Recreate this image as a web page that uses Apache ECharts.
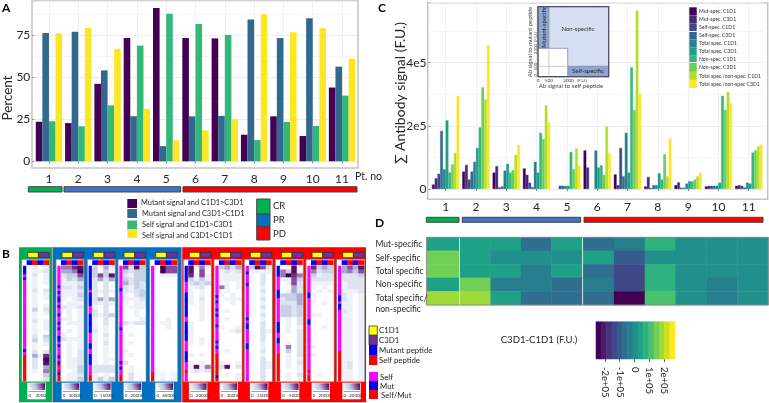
<!DOCTYPE html>
<html>
<head>
<meta charset="utf-8">
<style>
html, body { margin: 0; padding: 0; background: #fff; }
#main { width: 769px; height: 403px; }
</style>
</head>
<body>
<div id="main"></div>
<script src="https://cdn.jsdelivr.net/npm/echarts@6/dist/echarts.min.js"></script>
<script>
const FONT = 'Lato'

// panel A
const patients = ['1', '2', '3', '4', '5', '6', '7', '8', '9', '10', '11']
const mutC1 = [23.5, 22.7, 46, 73.2, 91, 73.2, 73, 15.8, 26.7, 15, 43.8]
const mutC3 = [76.2, 77, 54, 26.8, 9, 26.7, 27, 84.2, 73.2, 85, 56.2]
const selfC1 = [23.8, 20.8, 33.2, 68.7, 87.6, 81.6, 75, 12.6, 23.4, 21, 39]
const selfC3 = [76, 79.2, 66.8, 31.2, 12.4, 18.4, 25, 87.4, 76.6, 79, 61]
const aNames = ['Mutant signal and C1D1>C3D1', 'Mutant signal and C3D1>C1D1', 'Self signal and C1D1>C3D1', 'Self signal and C3D1>C1D1']
const aColors = ['#440154', '#31688E', '#35B779', '#FDE725']

// panel C, thousands of F.U. (null: no bar in the picture)
const cMutC1 = [14, 55, 52, 65, null, 122, 46, 8, 12, 8, 10]
const cMutC3 = [34, 76, 72, 45, null, 68, 12, 38, 21, 10, 12]
const cSelfC1 = [48, 30, 5, 20, 10, null, 130, 3, 4, 10, 10]
const cSelfC3 = [184, 55, 8, 6, 10, null, 40, 12, 4, 10, 5]
const cTotalC1 = [62, 86, 58, 86, 10, 122, 178, 12, 17, 10, 20]
const cTotalC3 = [217, 130, 80, 52, 10, 68, 52, 50, 25, 20, 17]
const cNonC1 = [52, 195, 52, 178, 117, 75, 385, 30, 24, 295, 115]
const cNonC3 = [78, 322, 60, 158, 63, 44, 250, 110, 30, 250, 122]
const cRatioC1 = [114, 283, 108, 265, 128, 198, 565, 40, 40, 307, 135]
const cRatioC3 = [295, 455, 139, 210, 73, 113, 302, 160, 52, 272, 141]
const cNames = ['Mut-spec. C1D1', 'Mut-spec. C3D1', 'Self-spec. C1D1', 'Self-spec. C3D1', 'Total spec. C1D1', 'Total spec. C3D1', 'Non-spec. C1D1', 'Non-spec. C3D1', 'Total spec./non-spec. C1D1', 'Total spec./non-spec C3D1']
const cColors = ['#440154', '#482878', '#3E4A89', '#31688E', '#26828E', '#1F9E89', '#35B779', '#6DCD59', '#B4DE2C', '#FDE725']

// panel B, one digit per cell (0 white .. 9 darkest)
const heat1 = ['0101', '0112', '0201', '0101', '0101', '0100', '0202', '0101', '0101', '0100', '0101', '0302', '0101', '0100', '0201', '0101', '0101', '0100', '0203', '0302', '0101', '0100', '0202', '0417', '0209', '0208', '0204', '0105', '0003', '0002']
const heat2 = ['5578', '4459', '2336', '1324', '1112', '2213', '1112', '1113', '1012', '0111', '2112', '0101', '0101', '1101', '0111', '0001', '0101', '1001', '2111', '0101', '0101', '0102', '0102', '0112', '0112', '0113', '0013', '0112', '0113']
const heat3 = ['3041', '3031', '3638', '2424', '2020', '2020', '2121', '2020', '2424', '2121', '1020', '2020', '2123', '1020', '1020', '1010', '2010', '1020', '1010', '1020', '1010', '1010', '1010', '1011', '1010', '2222', '2222', '1010', '1313']
const heat4 = ['6283', '3233', '2133', '3233', '4232', '2132', '2123', '1023', '1112', '1011', '0111', '0010', '0010', '0001', '2122', '0000', '0000', '0100', '0000', '0100', '0000', '1000', '0100', '0000', '2000', '0100', '0100', '0200', '0200']
const heat5 = ['0966', '0966', '0111', '0000', '0000', '0000', '0000', '0000', '0000', '0000', '0000', '0000', '0000', '0010', '0110', '0010', '0000', '0000', '0000', '0000', '0000', '0000', '0000', '0000', '0000', '0000', '0000', '0101', '0101']
const heat6 = ['8151', '8060', '7161', '3131', '2323', '1120', '1010', '1010', '1020', '1010', '0010', '0010', '0010', '0010', '1000', '1000', '1000', '1000', '1010', '1010', '0000', '0000', '1010', '0000', '1010', '1815', '1212', '0000', '0000']
const heat7 = ['3424', '1212', '1111', '1111', '0101', '5101', '0100', '1010', '0111', '0010', '0000', '0100', '0000', '0100', '0000', '1001', '0012', '0000', '0000', '0000', '0000', '0100', '0000', '0000', '1001', '2802', '0000', '0101', '0001']
const heat8 = ['3862', '1111', '0020', '0020', '0020', '0010', '0020', '0010', '0020', '0010', '0020', '0010', '0020', '0010', '0020', '0020', '0021', '0020', '0020', '0010', '0010', '0020', '0010', '0020', '0021', '0021', '0020', '0020', '0020']
const heat9 = ['0080', '5381', '5975', '1163', '0162', '0042', '0142', '3334', '2334', '2224', '3323', '3323', '3323', '0102', '0102', '0101', '0102', '0002', '0002', '0102', '0502', '0302', '0102', '0101', '0102', '0101', '0001', '0102', '0101']
const heat10 = ['7343', '5233', '3122', '2222', '1111', '1010', '0101', '1000', '0000', '1010', '0000', '0000', '1100', '0000', '0000', '0010', '0000', '0000', '0000', '0000', '1000', '0000', '1000', '0000', '0000', '0000', '0000', '0100', '0000']
const heat11 = ['4648', '4536', '2223', '2222', '1222', '1222', '1112', '2101', '2101', '1101', '1101', '2101', '1101', '1101', '1101', '1101', '1101', '1101', '1101', '1101', '1101', '1101', '1101', '1101', '1201', '1201', '1101', '1101', '1101']
const heats = [heat1, heat2, heat3, heat4, heat5, heat6, heat7, heat8, heat9, heat10, heat11]

// m self, b mut, r self/mut
const strips = [
    'bbbmbmmmmmmmmmmmmmmmmmmmmmmmmbmrrrrrrrrr',
    'mmmmmmmbmbmbbmbmmbmmbmbmmbbmbmmmbmbrmrbrr',
    'bbbbbbbbbmbbbbbmmmbbbbbbbmmmmbbmmbbbbmmmmrr',
    'mmmmmmmmbmmmmmmmmmmmmmbmmmmmmmmmmmbmbmmrr',
    'mmmmmmmmmmmmmmmmmmmmmmmmmmmmmmmmmmmmmmrrr',
    'bbbbbbmmmmbbbbbbbbbmmbbbbbbbmmmmbbbbmmmrmmm',
    'mmmmmmmmmmmbmbmmbmbmmmbmmmmmbmbmmrrrrrrrrbr',
    'mmbmmmbmmmmmmmmmmmbmbbmmmmmbbmmmmmmmmmmm',
    'bbbbmmmmmbbbmmmmmmmmmbbbbmmbbmmmmrrrrrrrrrr',
    'mmmmmmmmmmbbmmmmmmmmbbmmmmmmmmmmmmmmmmmrmrr',
    'mmmmmmmmmmbbmbbmmmmmmmmmmmmmmrrrrrrrrrr',
]
const stripColors = { m: '#ff00ff', b: '#0000ff', r: '#ff0000' }
const peptideCols = ['#0000ff', '#ff0000', '#0000ff', '#ff0000']
const barMax = ['2000', '30000', '15000', '20000', '40000', '20000', '30000', '15000', '5000', '20000', '20000']
const heatRamp = ['#ffffff', '#eef1f8', '#dde4f0', '#c5d0e5', '#aaa8cf', '#9a78b4', '#854a9c', '#6c2a80', '#560f66', '#430050']

// panel D, F.U. difference
const dRows = ['Mut-specific', 'Self-specific', 'Total specific', 'Non-specific', 'Total specific/']
const dMut = [42000, 42000, 42000, -65000, 42000, -65000, -29000, 78000, 6000, 6000, 6000]
const dSelf = [149000, 42000, 6000, 6000, 6000, 42000, -100000, 6000, 6000, 6000, 6000]
const dTotal = [149000, 42000, 42000, -29000, 42000, -65000, -136000, 78000, 6000, 6000, 6000]
const dNon = [42000, 149000, -29000, -29000, -65000, -29000, -136000, 78000, 6000, -29000, 6000]
const dRatio = [184000, 184000, 42000, -65000, -65000, -65000, -242000, 113000, 6000, -29000, 6000]
const viridis15 = ['#440154', '#481B6D', '#46337E', '#3F4889', '#365C8D', '#2E6E8E', '#277F8E', '#21908C', '#1FA187', '#2DB27D', '#4AC16D', '#73D056', '#A0DA39', '#D0E11C', '#FDE725']
const binEdges = [-260000, -224500, -189000, -153500, -118000, -82500, -47000, -11500, 24000, 59500, 95000, 130500, 166000, 201500, 237000, 272500]
const dTicks = [-200000, -100000, 0, 100000, 200000]
const dTickLabels = ['-2e+05', '-1e+05', '0', '1e+05', '2e+05']

// inset of panel C: x0, x1, y0, y1, fill
const insetCells = [
    [0, 4760, 0, 4930, '#d6dff1'],
    [0, 735, 2000, 4930, '#8ea5d3'],
    [2000, 4760, 0, 735, '#8ea5d3'],
    [0, 2000, 0, 2000, '#ffffff'],
]
const insetLines = [
    [735, 735, 0, 2000],
    [0, 2000, 735, 735],
]

const grids = []
const xAxes = []
const yAxes = []
const series = []
const heatSeries = []
const diffSeries = []
const shapes = []

const addGrid = (left, top, right, bottom, xAxis, yAxis) => {
    grids.push({ left, top, width: right - left, height: bottom - top })
    xAxes.push({ gridIndex: grids.length - 1, ...xAxis })
    yAxes.push({ gridIndex: grids.length - 1, ...yAxis })
    return grids.length - 1
}

const cats = (n) => Array.from({ length: n }, (_, i) => String(i))
const hiddenCat = (n, inverse) => ({ type: 'category', show: false, data: cats(n), inverse })

const addCells = (box, nx, ny, data) => {
    const g = addGrid(box[0], box[1], box[2], box[3], hiddenCat(nx, false), hiddenCat(ny, true))
    series.push({
        type: 'heatmap',
        xAxisIndex: g,
        yAxisIndex: g,
        data,
        silent: true,
        animation: false,
        progressive: 0,
        itemStyle: { borderWidth: 0 },
    })
    return series.length - 1
}

const text = (x, y, str, size, opts = {}) => {
    shapes.push({
        type: 'text',
        x,
        y,
        z: 50,
        rotation: opts.rotation || 0,
        silent: true,
        style: {
            text: str,
            fontSize: size,
            fontWeight: opts.weight || 'normal',
            fontFamily: FONT,
            fill: opts.fill || '#262626',
            align: opts.align || 'left',
            verticalAlign: 'middle',
        },
    })
}

const rect = (x0, y0, x1, y1, fill, stroke, lineWidth, z = 0) => {
    shapes.push({
        type: 'rect',
        z,
        silent: true,
        shape: { x: x0, y: y0, width: x1 - x0, height: y1 - y0 },
        style: { fill: fill || 'none', stroke: stroke || 'none', lineWidth: lineWidth || 0 },
    })
}

const barAxisX = (offset, size, margin) => ({
    type: 'category',
    data: patients,
    offset,
    axisLine: { show: false },
    axisTick: { show: true, alignWithLabel: true, length: 2, lineStyle: { color: '#888' } },
    axisLabel: { fontFamily: FONT, fontSize: size, color: '#262626', margin },
    splitLine: { show: true, alignWithLabel: true, lineStyle: { color: '#f0f0f0', width: 1 } },
})

const barAxisY = (max, interval, formatter) => ({
    type: 'value',
    min: 0,
    max,
    interval,
    axisLine: { show: false },
    axisTick: { show: true, length: 2, lineStyle: { color: '#888' } },
    axisLabel: { fontFamily: FONT, fontSize: 12, color: '#262626', margin: 4, formatter, showMaxLabel: false },
    splitLine: { show: true, lineStyle: { color: '#ededed', width: 1 } },
    minorTick: { show: false, splitNumber: 2 },
    minorSplitLine: { show: true, lineStyle: { color: '#f5f5f5', width: 1 } },
})

// panel A
const gridA = addGrid(34.3, 1, 356.7, 161.3, barAxisX(6.7, 12, 5), barAxisY(95.2, 25))
;[mutC1, mutC3, selfC1, selfC3].forEach((data, i) => {
    series.push({
        type: 'bar',
        name: aNames[i],
        xAxisIndex: gridA,
        yAxisIndex: gridA,
        data,
        barGap: 0,
        barCategoryGap: '10%',
        animation: false,
        silent: true,
        itemStyle: { color: aColors[i] },
    })
})
rect(32, 1, 358, 168, null, '#c4c4c4', 1.5)
text(8, 98, 'Percent', 13.5, { rotation: Math.PI / 2, align: 'center' })
text(355, 177, 'Pt. no', 10.5)
rect(28.3, 186.7, 62, 192, '#00b050', '#444', 1)
rect(64, 186.7, 180.7, 192, '#4472c4', '#444', 1)
rect(183, 186.7, 357, 192, '#ff0000', '#444', 1)

aNames.forEach((name, i) => {
    const top = [199, 209, 220.5, 229][i]
    rect(127.3, top, 137, top + 9, aColors[i])
    text(i === 0 ? 141 : 142, [203, 214, 225, 236][i], name, 7.4)
})
rect(256.7, 199, 270, 214, '#00b050', '#444', 1)
rect(256.7, 214, 270, 226.5, '#0070c0', '#444', 1)
rect(256.7, 226.5, 270, 240, '#ff0000', '#444', 1)
text(273, 206, 'CR', 9.5)
text(273, 220, 'PR', 9.5)
text(273, 233.5, 'PD', 9.5)

// panel C
const gridC = addGrid(430.5, 2.7, 763.9, 189, barAxisX(10.3, 12, 2), barAxisY(590, 200, (v) => (v === 0 ? '0' : `${v / 100}e5`)))
;[cMutC1, cMutC3, cSelfC1, cSelfC3, cTotalC1, cTotalC3, cNonC1, cNonC3, cRatioC1, cRatioC3].forEach((data, i) => {
    series.push({
        type: 'bar',
        name: cNames[i],
        xAxisIndex: gridC,
        yAxisIndex: gridC,
        data,
        barGap: 0,
        barCategoryGap: '10%',
        animation: false,
        silent: true,
        // thin border closes the seams between the 2.7 px wide bars
        itemStyle: { color: cColors[i], borderColor: cColors[i], borderWidth: 0.4 },
    })
})
rect(427.7, 2.7, 767.7, 199.3, null, '#c4c4c4', 1.5)
text(400, 93, '∑ Antibody signal (F.U.)', 14, { rotation: Math.PI / 2, align: 'center' })
rect(426.3, 217.3, 459, 222.3, '#00b050', '#444', 1)
rect(462.3, 217.3, 580.7, 222.3, '#4472c4', '#444', 1)
rect(584, 217.3, 763, 222.3, '#ff0000', '#444', 1)

cNames.forEach((name, i) => {
    rect(689.3, 7.3 + i * 8.07, 696.7, 15.37 + i * 8.07, cColors[i])
    text(699, 11.3 + i * 8.07, name, 5.1, { fill: '#333' })
})

// inset schematic
const gridInset = addGrid(538, 6.7, 608.7, 76.7,
    { type: 'value', show: false, min: 0, max: 4760 },
    { type: 'value', show: false, min: 0, max: 4930 })
series.push({
    type: 'custom',
    xAxisIndex: gridInset,
    yAxisIndex: gridInset,
    z: 5,
    silent: true,
    animation: false,
    data: insetCells,
    renderItem: (params, api) => {
        const a = api.coord([api.value(0), api.value(3)])
        const b = api.coord([api.value(1), api.value(2)])
        return {
            type: 'rect',
            shape: { x: a[0], y: a[1], width: b[0] - a[0], height: b[1] - a[1] },
            style: { fill: insetCells[params.dataIndex][4], stroke: '#7f8aa3', lineWidth: 0.8 },
        }
    },
})
series.push({
    type: 'custom',
    xAxisIndex: gridInset,
    yAxisIndex: gridInset,
    z: 6,
    silent: true,
    animation: false,
    data: insetLines,
    renderItem: (params, api) => {
        const a = api.coord([api.value(0), api.value(2)])
        const b = api.coord([api.value(1), api.value(3)])
        return {
            type: 'line',
            shape: { x1: a[0], y1: a[1], x2: b[0], y2: b[1] },
            style: { stroke: '#bdbdbd', lineWidth: 0.8 },
        }
    },
})
rect(538, 6.7, 608.7, 76.7, null, '#4a5068', 1.2, 40)
text(578, 29, 'Non-specific', 6, { align: 'center', fill: '#333' })
text(543.7, 27, 'Mutant-specific', 6, { align: 'center', rotation: Math.PI / 2, fill: '#222' })
text(588, 71, 'Self-specific', 6, { align: 'center', fill: '#222' })
text(530, 42, 'Ab signal to mutant peptide', 5.8, { align: 'center', rotation: Math.PI / 2, fill: '#444' })
text(535.5, 37, '(F.U.)', 4.5, { align: 'center', rotation: Math.PI / 2, fill: '#444' })
text(535.5, 49, '2000', 4.5, { align: 'center', rotation: Math.PI / 2, fill: '#444' })
text(535.5, 66.5, '500', 4.5, { align: 'center', rotation: Math.PI / 2, fill: '#444' })
text(535.5, 75.5, '0', 4.5, { align: 'center', rotation: Math.PI / 2, fill: '#444' })
text(538, 80.5, '0', 4.5, { align: 'center', fill: '#444' })
text(549, 80.5, '500', 4.5, { align: 'center', fill: '#444' })
text(568.5, 80.5, '2000', 4.5, { align: 'center', fill: '#444' })
text(582, 80.5, '(F.U.)', 4.5, { align: 'center', fill: '#444' })
text(571, 86, 'Ab signal to self peptide', 6.1, { align: 'center', fill: '#444' })

// panel B
const panelX = [21.7, 56, 87.3, 118, 149.7, 183.3, 214, 244.3, 275.3, 306, 336.7]
rect(19, 247.3, 52.3, 402.3, '#00b050', null, 0)
rect(52.3, 247.3, 53, 402.3, '#999999')
rect(53, 247.3, 181, 402.3, '#0070c0')
rect(181, 247.3, 182.3, 402.3, '#999999')
rect(182.3, 247.3, 366, 402.3, '#ff0000')

heats.forEach((rows, p) => {
    const x = panelX[p]
    rect(x + 6, 252.3, x + 16.7, 257.7, '#ffff00', '#333', 0.8)
    rect(x + 16.7, 252.3, x + 27.6, 257.7, '#7030a0', '#333', 0.8)
    rect(x, 259.3, x + 28, 381.7, '#ffffff', '#7f7f7f', 0.8)

    const cells = []
    rows.forEach((row, r) => {
        row.split('').forEach((d, c) => cells.push([c, r, Number(d)]))
    })
    heatSeries.push(addCells([x + 5.2, 265.7, x + 27.2, 381], 4, rows.length, cells))
    addCells([x + 5.2, 260.5, x + 27.2, 264.7], 4, 1, peptideCols.map((color, c) => ({ value: [c, 0, c], itemStyle: { color } })))

    const strip = strips[p].split('')
    addCells([x + 1.6, 266, x + 4.3, 381], 1, strip.length, strip.map((k, r) => ({ value: [0, r, 0], itemStyle: { color: stripColors[k] } })))

    rect(x + 5.6, 382.7, x + 24, 399.3, '#ffffff')
    shapes.push({
        type: 'rect',
        silent: true,
        z: 1,
        shape: { x: x + 6.6, y: 383.3, width: 16.7, height: 6.7 },
        style: {
            fill: new echarts.graphic.LinearGradient(0, 1, 1, 0, [
                { offset: 0, color: '#ffffff' },
                { offset: 0.45, color: '#b6c5df' },
                { offset: 0.75, color: '#854a9c' },
                { offset: 1, color: '#430050' },
            ]),
        },
    })
    rect(x + 7, 391, x + 23, 391.6, '#666666', null, 0, 1)
    text(x + 8, 396, '0', 4.5, { align: 'center', fill: '#333' })
    text(x + 19, 396, barMax[p], 4.5, { align: 'center', fill: '#333' })
})

rect(369, 326, 377.3, 335.3, '#ffff00', '#333', 0.8)
rect(369, 335.3, 377.3, 345, '#7030a0', '#333', 0.8)
rect(369, 345, 377.3, 355, '#0000ff')
rect(369, 355, 377.3, 365, '#ff0000')
text(379, 330.5, 'C1D1', 7.8)
text(379, 340.5, 'C3D1', 7.8)
text(379, 350.5, 'Mutant peptide', 7.8)
text(379, 360.5, 'Self peptide', 7.8)
rect(369, 372, 378, 381, '#ff00ff')
rect(369, 381, 378, 390, '#0000ff')
rect(369, 390, 378, 399, '#ff0000')
text(380, 377, 'Self', 7.8)
text(380, 386.5, 'Mut', 7.8)
text(381, 395.5, 'Self/Mut', 7.8)

// panel D
const dAll = [dMut, dSelf, dTotal, dNon, dRatio]
const dCols = (from, to) => {
    const out = []
    dAll.forEach((row, r) => {
        for (let c = from; c < to; c++) out.push([c - from, r, row[c]])
    })
    return out
}
diffSeries.push(addCells([426.7, 237.3, 459, 305], 1, 5, dCols(0, 1)))
diffSeries.push(addCells([460.2, 237.3, 582, 305], 4, 5, dCols(1, 5)))
diffSeries.push(addCells([583.3, 237.3, 768.3, 305], 6, 5, dCols(5, 11)))
rect(426.7, 237.3, 768.3, 305, null, '#8a8a8a', 1, 40)
dRows.forEach((name, i) => text(375.5, [244, 258, 271, 284.5, 298][i], name, 8.5))
text(375.5, 309.5, 'non-specific', 8.5)

addCells([596, 321.7, 675, 359], 15, 1, viridis15.map((color, c) => ({ value: [c, 0, c], itemStyle: { color } })))
addGrid(596, 321.7, 675, 359,
    {
        type: 'value',
        min: binEdges[0],
        max: binEdges[binEdges.length - 1],
        axisLine: { show: false },
        splitLine: { show: false },
        axisTick: { show: true, customValues: dTicks, length: 3, lineStyle: { color: '#666' } },
        axisLabel: {
            fontFamily: FONT,
            fontSize: 9.5,
            color: '#262626',
            rotate: -90,
            margin: 8,
            customValues: dTicks,
            formatter: (v) => dTickLabels[dTicks.indexOf(v)],
        },
    },
    { type: 'value', show: false })
text(500.7, 340, 'C3D1-C1D1 (F.U.)', 9.6)

text(2, 8, 'A', 12, { weight: 'bold', fill: '#000' })
text(2, 254, 'B', 12, { weight: 'bold', fill: '#000' })
text(378, 8, 'C', 12, { weight: 'bold', fill: '#000' })
text(375, 223, 'D', 12, { weight: 'bold', fill: '#000' })

const chart = echarts.init(document.getElementById('main'), null, { renderer: 'canvas' })
chart.setOption({
    animation: false,
    backgroundColor: '#fff',
    grid: grids,
    xAxis: xAxes,
    yAxis: yAxes,
    series,
    visualMap: [
        {
            show: false,
            type: 'continuous',
            min: 0,
            max: 9,
            dimension: 2,
            seriesIndex: heatSeries,
            inRange: { color: heatRamp },
        },
        {
            show: false,
            type: 'piecewise',
            dimension: 2,
            seriesIndex: diffSeries,
            pieces: viridis15.map((color, i) => ({ min: binEdges[i], max: binEdges[i + 1], color })),
        },
    ],
    graphic: { elements: shapes },
})
</script>
</body>
</html>
